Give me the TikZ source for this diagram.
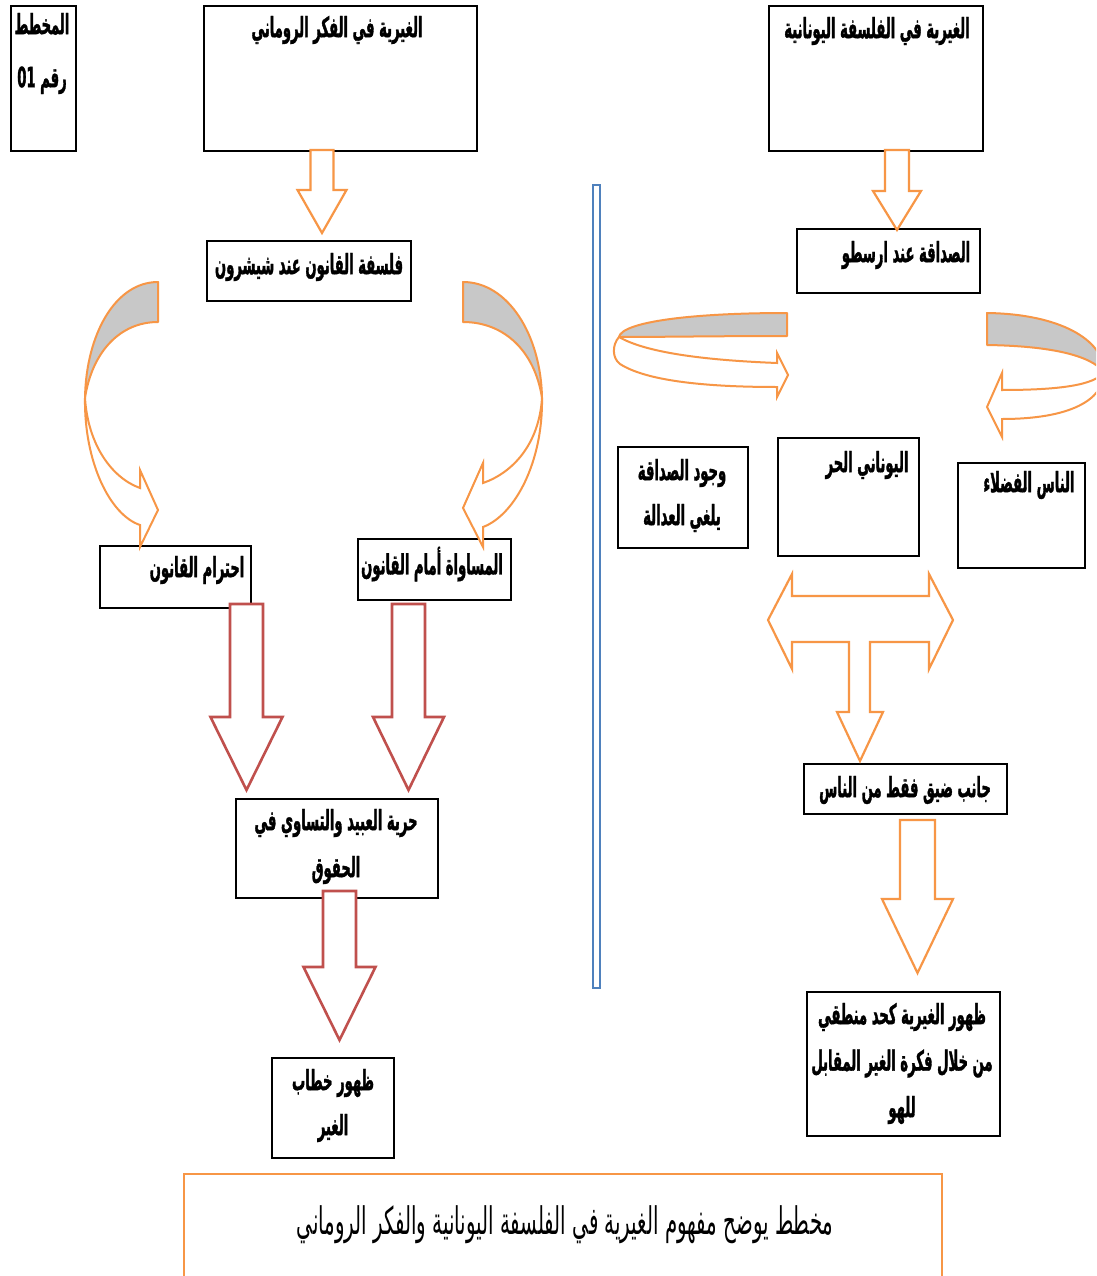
\documentclass[tikz,border=0pt]{standalone}
\usepackage{fontspec}
\newfontfamily\arabicfont[Script=Arabic,FakeStretch=0.47,BoldFeatures={FakeBold=1.2}]{DejaVu Sans}
\newfontfamily\capfont[Script=Arabic,FakeStretch=0.52]{DejaVu Sans}
\TeXXeTstate=1
\newcommand\AR[1]{\beginR#1\endR}
\definecolor{orangeC}{HTML}{F79646}
\definecolor{redC}{HTML}{C0504D}
\definecolor{blueC}{HTML}{4F81BD}
\definecolor{grayC}{HTML}{C8C8C8}
\newcommand\blockdown[7]{%
  \draw[#1] (#2-#5,#3) -- (#2+#5,#3) -- (#2+#5,#7) -- (#2+#6,#7) -- (#2,#4)
    -- (#2-#6,#7) -- (#2-#5,#7) -- cycle;}
\begin{document}
\begin{tikzpicture}[x=1pt,y=-1pt,
  box/.style={draw=black, line width=1.6pt, fill=white, anchor=north west, inner sep=0pt},
  txt/.style={font=\arabicfont\bfseries\fontsize{28}{32}\selectfont, inner sep=0pt, align=center},
  oarrow/.style={draw=orangeC, line width=2.2pt, fill=white, line join=miter},
  rarrow/.style={draw=redC, line width=2.6pt, fill=white, line join=miter},
  gband/.style={draw=orangeC, line width=2pt, fill=grayC, line join=round},
  wband/.style={draw=orangeC, line width=2pt, fill=white, line join=miter}]
\useasboundingbox (0,0) rectangle (1096,1276);
\clip (0,0) rectangle (1096,1276);
\fill[white] (0,0) rectangle (1096,1276);

% boxes
\node[box, minimum width=65pt, minimum height=145pt] (b01) at (10,5) {};
\node[box, minimum width=273pt, minimum height=145pt] (broman) at (203,5) {};
\node[box, minimum width=214pt, minimum height=145pt] (bgreek) at (768,5) {};
\node[box, minimum width=204pt, minimum height=60pt] (bcicero) at (206,240) {};
\node[box, minimum width=183pt, minimum height=64pt] (barist) at (796,228) {};
\node[box, minimum width=151pt, minimum height=62pt] (bihtiram) at (99,545) {};
\node[box, minimum width=153pt, minimum height=61pt] (bmusawat) at (357,538) {};
\node[box, minimum width=202pt, minimum height=99pt] (bhurriya) at (235,798) {};
\node[box, minimum width=122pt, minimum height=100pt] (bkhitab) at (271,1057) {};
\node[box, minimum width=130pt, minimum height=101pt] (bwujud) at (617,446) {};
\node[box, minimum width=141pt, minimum height=118pt] (byunani) at (777,437) {};
\node[box, minimum width=127pt, minimum height=105pt] (bnas) at (957,462) {};
\node[box, minimum width=203pt, minimum height=50pt] (bjanib) at (803,763) {};
\node[box, minimum width=193pt, minimum height=144pt] (bzuhur) at (806,991) {};
\node[box, draw=orangeC, line width=2.4pt, minimum width=758pt, minimum height=140pt] (bcap) at (183,1173) {};

% blue divider
\draw[blueC, line width=1.6pt] (593,185) rectangle (600,988);

% straight block arrows
\blockdown{oarrow}{322}{150}{233}{11.5}{24.5}{190}
\blockdown{oarrow}{897}{150}{230}{12}{24}{191}
\blockdown{rarrow}{246.5}{604}{790}{16.5}{36}{717}
\blockdown{rarrow}{408.5}{604}{790}{16.5}{35.5}{717}
\blockdown{rarrow}{339.5}{891}{1040}{16.5}{36}{967}
\blockdown{oarrow}{917.5}{820}{973}{17.5}{35.5}{899}

% T-shaped arrow
\draw[oarrow] (768,620) -- (792,574) -- (792,596) -- (929,596) -- (929,574) -- (953,620)
  -- (929,669) -- (929,642) -- (870,642) -- (870,712) -- (883,712) -- (860,761)
  -- (837,712) -- (849,712) -- (849,642) -- (792,642) -- (792,669) -- cycle;

% left curved arrow
\draw[gband] (158,282) .. controls (115,282) and (86,335) .. (85,398)
  .. controls (92,352) and (120,322) .. (158,322) -- cycle;
\draw[wband] (85,398) .. controls (84,462) and (110,515) .. (140,525) -- (140,547)
  -- (158,510) -- (140,470) -- (140,488) .. controls (112,478) and (88,445) .. (85,398) -- cycle;
% right curved arrow
\draw[gband] (463,282) .. controls (508,282) and (541,335) .. (542,398)
  .. controls (535,352) and (505,322) .. (463,322) -- cycle;
\draw[wband] (542,398) .. controls (543,462) and (515,515) .. (483,527) -- (483,547)
  -- (463,508) -- (483,463) -- (483,483) .. controls (512,473) and (539,445) .. (542,398) -- cycle;
% upper-left horizontal curved arrow
\draw[gband] (787,313) .. controls (690,313) and (622,322) .. (619,337)
  .. controls (660,337) and (720,336) .. (787,336) -- cycle;
\draw[wband] (619,337) .. controls (612,345) and (612,358) .. (620,364)
  .. controls (645,380) and (700,387) .. (777,387) -- (777,397)
  -- (788,375) -- (777,353) -- (777,363) .. controls (700,360) and (645,352) .. (619,337) -- cycle;
% upper-right horizontal curved arrow
\draw[gband] (987,313) .. controls (1060,314) and (1104,340) .. (1104,372)
  .. controls (1090,355) and (1050,346) .. (987,345) -- cycle;
\draw[wband] (1104,372) .. controls (1095,385) and (1060,390) .. (1002,390) -- (1002,373)
  -- (987,407) -- (1002,437) -- (1002,419) .. controls (1070,419) and (1104,400) .. (1104,372) -- cycle;

% texts
\node[txt, font=\arabicfont\bfseries\fontsize{28}{53}\selectfont] (t01) at (42,53.5)
  {\AR{المخطط}\\\AR{رقم \beginL 01\endL}};
\node[txt] (troman) at (337,30) {\AR{الغيرية في الفكر الروماني}};
\node[txt] (tgreek) at (877,31) {\AR{الغيرية في الفلسفة اليونانية}};
\node[txt] (tcicero) at (309,267) {\AR{فلسفة القانون عند شيشرون}};
\node[txt] (tarist) at (906,255) {\AR{الصداقة عند ارسطو}};
\node[txt] (tihtiram) at (197,570) {\AR{احترام القانون}};
\node[txt] (tmusawat) at (432,564) {\AR{المساواة أمام القانون}};
\node[txt, font=\arabicfont\bfseries\fontsize{28}{47}\selectfont] (thurriya) at (336,846.5)
  {\AR{حرية العبيد والتساوي في}\\\AR{الحقوق}};
\node[txt, font=\arabicfont\bfseries\fontsize{28}{45}\selectfont] (tkhitab) at (333,1105.5)
  {\AR{ظهور خطاب}\\\AR{الغير}};
\node[txt, font=\arabicfont\bfseries\fontsize{28}{45}\selectfont] (twujud) at (682,495.5)
  {\AR{وجود الصداقة}\\\AR{يلغي العدالة}};
\node[txt] (tyunani) at (867,465) {\AR{اليوناني الحر}};
\node[txt] (tnas) at (1029,485) {\AR{الناس الفضلاء}};
\node[txt] (tjanib) at (905,790) {\AR{جانب ضيق فقط من الناس}};
\node[txt, font=\arabicfont\bfseries\fontsize{28}{46.5}\selectfont] (tzuhur) at (902,1063.5)
  {\AR{ظهور الغيرية كحد منطقي}\\\AR{من خلال فكرة الغير المقابل}\\\AR{للهو}};
\node[txt, font=\capfont\fontsize{38}{42}\selectfont] (tcap) at (565,1225)
  {\AR{مخطط يوضح مفهوم الغيرية في الفلسفة اليونانية والفكر الروماني}};
\end{tikzpicture}
\end{document}
